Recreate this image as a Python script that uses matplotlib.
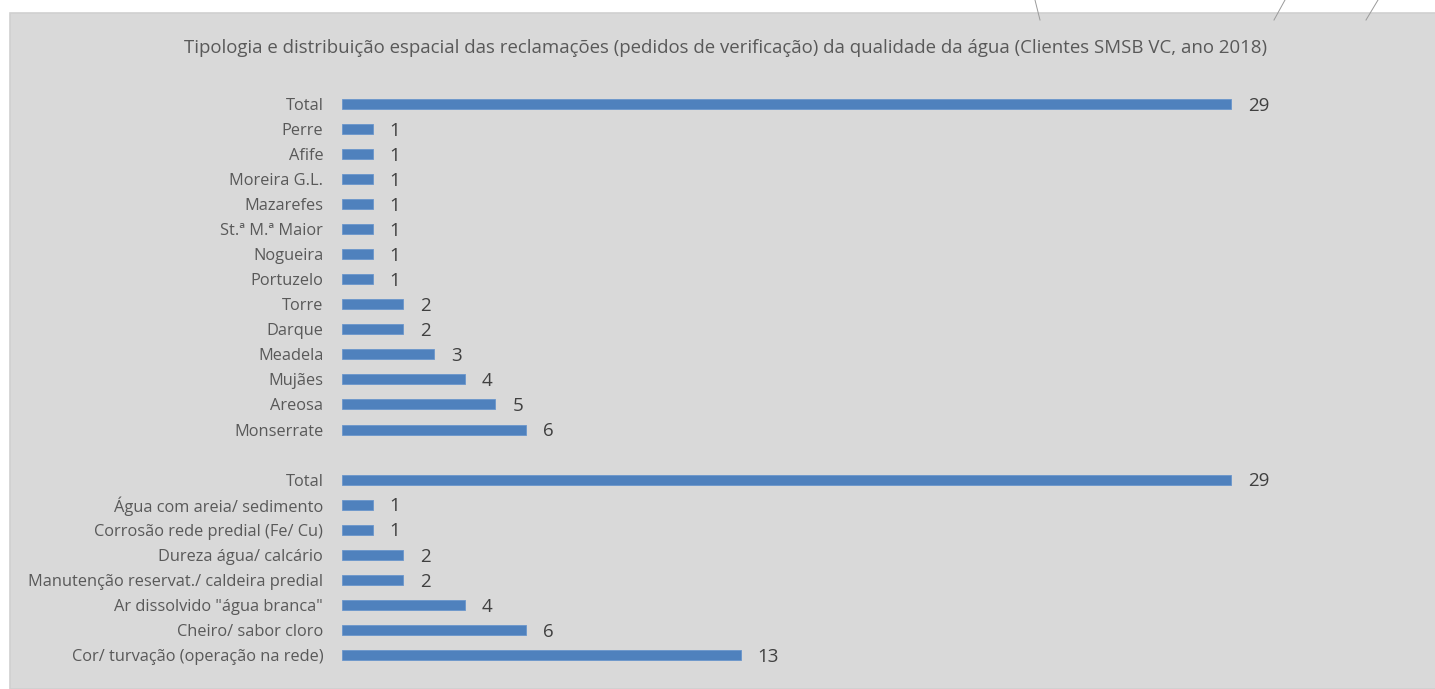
import matplotlib
matplotlib.use("Agg")
import matplotlib.pyplot as plt
from matplotlib.patches import Rectangle
from matplotlib.lines import Line2D

# ---- data (top to bottom) ----
parish_labels = ["Total", "Perre", "Afife", "Moreira G.L.", "Mazarefes", "St.ª M.ª Maior",
                 "Nogueira", "Portuzelo", "Torre", "Darque", "Meadela", "Mujães",
                 "Areosa", "Monserrate"]
parish_values = [29, 1, 1, 1, 1, 1, 1, 1, 2, 2, 3, 4, 5, 6]

type_labels = ["Total", "Água com areia/ sedimento", "Corrosão rede predial (Fe/ Cu)",
               "Dureza água/ calcário", "Manutenção reservat./ caldeira predial",
               "Ar dissolvido \"água branca\"", "Cheiro/ sabor cloro",
               "Cor/ turvação (operação na rede)"]
type_values = [29, 1, 1, 2, 2, 4, 6, 13]

title = ("Tipologia e distribuição espacial das reclamações (pedidos de verificação) "
         "da qualidade da água (Clientes SMSB VC, ano 2018)")

FONT = ["Open Sans", "DejaVu Sans"]
plt.rcParams['font.family'] = FONT

W, H = 1435, 689
fig = plt.figure(figsize=(W / 100, H / 100), dpi=100)
fig.patch.set_facecolor("white")

# panel background
fig.add_artist(Rectangle((9.5 / W, 0), 2, (H - 12.5) / H, transform=fig.transFigure,
                         facecolor="#D9D9D9", edgecolor="#D0D0D0", linewidth=1.2, zorder=0))

# decorative thin lines at the top
for (x0, x1) in [(1035, 1040), (1285, 1274), (1378, 1366)]:
    fig.add_artist(Line2D([x0 / W, x1 / W], [1, 1 - 20 / H], transform=fig.transFigure,
                          color="#9A9A9A", linewidth=0.7, zorder=1))

labels = parish_labels + [""] + type_labels
values = parish_values + [None] + type_values
n = len(labels)

row = 25.04
top_px = 104 - row / 2
left_px = 342
px_per_unit = 30.66
ax_w_px = 1000
ax = fig.add_axes([left_px / W, 1 - (top_px + n * row) / H, ax_w_px / W, n * row / H])
ax.set_facecolor("none")
ax.set_xlim(0, ax_w_px / px_per_unit)
ax.set_ylim(n - 0.5, -0.5)

ys = [i for i, v in enumerate(values) if v is not None]
vs = [v for v in values if v is not None]
ax.barh(ys, vs, height=0.4, color="#4F81BD", edgecolor="#6A96CC", linewidth=0.6)

for y, v in zip(ys, vs):
    ax.annotate(str(v), (v, y), xytext=(17 * 0.72, -6.8 * 0.72), textcoords="offset points",
                ha="left", va="baseline", fontsize=13.5, color="#404040")

ax.set_yticks(range(n))
ax.set_yticklabels(labels, fontsize=11.8, color="#595959")
ax.tick_params(axis="y", length=0, pad=13.5)
ax.set_xticks([])
for s in ax.spines.values():
    s.set_visible(False)

fig.text(726 / W, 1 - 48 / H, title, ha="center", va="center", fontsize=13.4, color="#595959")

fig.savefig("out.png", dpi=100, facecolor=fig.get_facecolor())
